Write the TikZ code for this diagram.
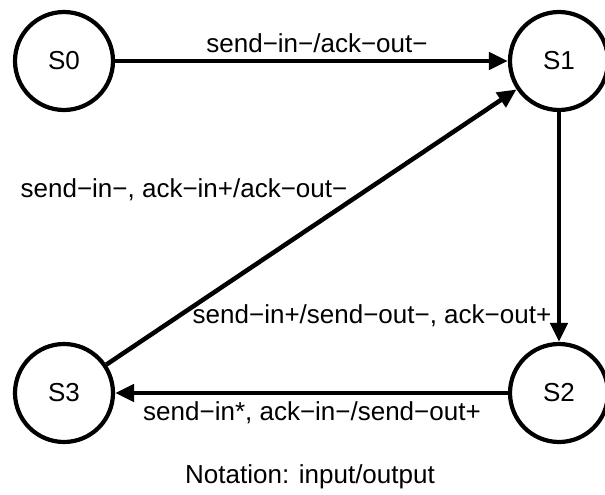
\documentclass[tikz,border=0pt]{standalone}
\usepackage{fontspec}
\setmainfont{Liberation Sans}
\usetikzlibrary{arrows.meta}
\tikzset{
  state/.style={circle, draw, line width=4.2pt, minimum size=98pt, inner sep=0pt, font=\fontsize{26}{30}\selectfont},
  trans/.style={line width=4.5pt, -{Triangle[length=19pt,width=17pt]}},
  lbl/.style={inner sep=0pt, font=\fontsize{26}{30}\selectfont},
}
\begin{document}
\begin{tikzpicture}[x=1pt, y=-1pt]
  \useasboundingbox (0,0) rectangle (605,495);
  % states
  \node[state] (s0) at (64,61) {S0};
  \node[state] (s1) at (559,61) {S1};
  \node[state] (s2) at (559,393) {S2};
  \node[state] (s3) at (64,393) {S3};
  % transitions
  \draw[trans] (s0) -- (s1);
  \draw[trans] (s1) -- (s2);
  \draw[trans] (s2) -- (s3);
  \draw[trans] (s3) -- (s1);
  % transition labels
  \node[lbl] (l01) at (317,43) {send−in−/ack−out−};
  \node[lbl] (l31) at (184,190) {send−in−, ack−in+/ack−out−};
  \node[lbl] (l12) at (372,316) {send−in+/send−out−, ack−out+};
  \node[lbl] (l23) at (312,413) {send−in*, ack−in−/send−out+};
  \node[lbl] (note) at (310,477) {Notation: input/output};
\end{tikzpicture}
\end{document}
